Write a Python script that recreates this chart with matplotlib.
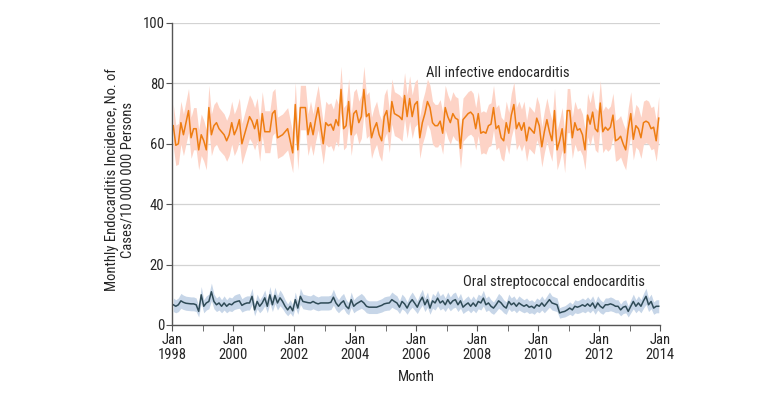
import matplotlib
matplotlib.use("Agg")
import matplotlib.pyplot as plt
import numpy as np

# monthly incidence per 10 000 000 persons, Jan 1998 .. Dec 2013 (one row per year)
all_ie = [
    66, 59.5, 60, 67, 63, 67, 71, 62, 65, 65, 58, 63,
    61, 58, 72, 63, 66, 67, 65, 64, 63, 61, 63, 67,
    63, 65, 68, 60, 63, 66, 69, 67.5, 65, 68, 61, 70,
    64, 64, 64, 70, 71, 62, 62.5, 63, 64, 65, 61, 57,
    73, 58, 72, 72, 72, 63, 67, 63, 68, 72, 66, 60,
    67, 66, 66.5, 64.5, 68, 66, 78, 65, 66, 74, 63, 70,
    71, 67, 69, 78, 69, 70, 62, 65, 67, 63, 61, 69,
    71, 64, 74, 70, 69.5, 69, 68, 76, 69, 75, 69, 73,
    74, 62, 67, 70, 74, 72, 67, 66, 66, 67.5, 63.5, 72,
    69, 67, 70, 68.5, 68, 58.5, 68, 69, 70, 70.5, 69.5, 65,
    70, 63.5, 64, 63.5, 66, 66.5, 72, 65, 66, 62, 61, 67,
    63.5, 69.5, 73, 65, 67, 64.5, 67, 61, 65.5, 64.5, 63.5, 68.5,
    66, 59, 64, 68, 64, 61, 71, 58, 61, 65, 57, 71,
    71, 62, 67, 64.5, 65, 63, 58, 69.5, 66.5, 70.5, 65, 64,
    73.5, 64, 65.5, 64.5, 65.5, 69.5, 61, 61.5, 62.5, 60, 58, 65,
    70, 61.5, 66, 65, 62, 67, 67.5, 67, 65, 65.5, 61, 68.5,
]
oral_strep = [
    6.7, 6.2, 6.7, 8, 7.5, 7.2, 7.1, 7, 7, 6.7, 4.5, 10,
    6.2, 7.3, 7.8, 11, 7.8, 6.7, 7.3, 6.2, 7.3, 6.2, 7, 6.7,
    7.5, 7.8, 8, 6.5, 7, 7.3, 7.3, 9.5, 5, 7.8, 6.2, 7.3,
    9, 6.2, 10, 6.7, 9.8, 7.3, 9, 7.8, 6.2, 5, 6.2, 4.7,
    8.4, 5.6, 9.5, 7.8, 7.6, 7.4, 7.3, 7.8, 7.3, 7, 7.3, 7.3,
    7.3, 7.3, 7.5, 9.2, 7.3, 6.2, 7.3, 8, 6.2, 5.4, 8.4, 6.2,
    7, 7.5, 8, 7.3, 6.2, 5.9, 5.9, 5.9, 5.9, 6.2, 6.5, 7,
    7.2, 7.3, 8.4, 7.8, 7.3, 5.9, 7.8, 7, 5.6, 7.3, 8.4, 7.2,
    5.9, 7.8, 9.2, 6.7, 8.4, 5.6, 8, 7.3, 8.9, 7.3, 8, 6.7,
    8.4, 7, 8, 8.4, 6.7, 8, 5.9, 6.7, 7.3, 6.2, 7.3, 6.2,
    7.8, 7.3, 8.9, 6.7, 7.3, 6.2, 5.6, 6.7, 8, 7.3, 6.2, 5.6,
    7.8, 6.7, 7.3, 6.2, 7.3, 6.7, 6.2, 6.7, 5.9, 6.2, 5.6, 6.7,
    6.2, 7.3, 6.2, 7.3, 8.4, 7.3, 7, 6.7, 4, 4.3, 4.5, 5,
    5.6, 5, 6.2, 5.9, 6.2, 6.7, 6.2, 7, 6.2, 7.3, 5.6, 7.3,
    6.2, 5.6, 6.7, 6.7, 7, 6.7, 6.2, 6.2, 5, 5.9, 6.2, 4.5,
    6.2, 7.8, 6.2, 7.3, 6.2, 8, 9.5, 6.7, 7.8, 5.6, 6.2, 6.2,
]
years = list(range(1998, 2015))
pop_10m = 5.1  # population in units of 10 million, for the Poisson 95% CI

assert len(all_ie) == 192 and len(oral_strep) == 192

plt.rcParams["font.family"] = ["Roboto Condensed", "DejaVu Sans"]
txt = "#262626"
fs = 10.5

months = np.arange(len(all_ie)) + 0.5
ie = np.array(all_ie)
os_ = np.array(oral_strep)

fig = plt.figure(figsize=(7.8, 3.96), dpi=100)
ax = fig.add_axes([172 / 780, 1 - 325 / 396, 488 / 780, 302 / 396])

for y, col_line, col_band in [(ie, "#EE7D12", "#FDD3C6"), (os_, "#2F4B57", "#C7D6E8")]:
    hw = 1.96 * np.sqrt(y / pop_10m)
    ax.fill_between(months, y - hw, y + hw, color=col_band, lw=0, zorder=1)
    ax.plot(months, y, color=col_line, lw=1.1, zorder=2)

ax.set_xlim(0, 192)
ax.set_ylim(0, 100)
ax.set_yticks(range(0, 101, 20))
ax.yaxis.grid(True, color="#D3D3D3", lw=0.9)
ax.set_axisbelow(True)

ax.set_xticks([(yr - 1998) * 12 for yr in years[::2]])
ax.set_xticklabels([f"Jan\n{yr}" for yr in years[::2]], linespacing=1.05)
ax.set_xticks([(yr - 1998) * 12 for yr in years[1::2]], minor=True)

for s in ["top", "right"]:
    ax.spines[s].set_visible(False)
for s in ["left", "bottom"]:
    ax.spines[s].set_color("#555555")
    ax.spines[s].set_linewidth(1.0)
ax.tick_params(which="both", direction="out", length=4, color="#555555", labelsize=fs, labelcolor=txt)
ax.tick_params(axis="y", pad=1.5)
ax.tick_params(axis="x", pad=2)

fig.text(120 / 780, 1 - 180 / 396, "Monthly Endocarditis Incidence, No. of\nCases/10\u2009000\u2009000 Persons",
         rotation=90, ha="center", va="center", multialignment="center",
         fontsize=fs, color=txt, linespacing=1.1)
fig.text(416 / 780, 1 - 377 / 396, "Month", ha="center", va="center", fontsize=fs, color=txt)

ax.text(128, 83.4, "All infective endocarditis", ha="center", va="center", fontsize=fs, color=txt)
ax.text(150.3, 14.2, "Oral streptococcal endocarditis", ha="center", va="center", fontsize=fs, color=txt)

fig.savefig("out.png", dpi=100)
